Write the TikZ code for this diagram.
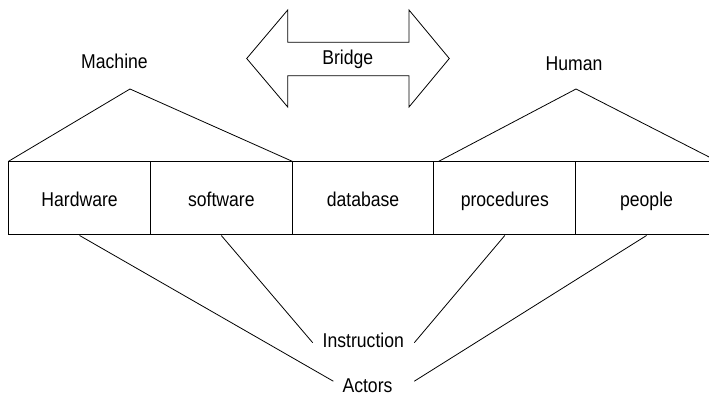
\documentclass[tikz,border=0pt]{standalone}
\usepackage{fontspec}
\setmainfont{Liberation Sans}
\begin{document}
\begin{tikzpicture}[x=1pt,y=-1pt,
  lbl/.style={font=\fontsize{20}{24}\selectfont, inner sep=0pt, xscale=0.88, anchor=base},
  cell/.style={draw, line width=1pt, minimum width=141.74pt, minimum height=73pt,
               inner sep=0pt, anchor=center, text height=18.4pt, text depth=2pt,
               font=\fontsize{20}{24}\selectfont},
  wire/.style={line width=0.8pt, line join=miter}]
\useasboundingbox (0,0) rectangle (709,395);
\clip (0,0) rectangle (709,395);

% the five component cells
\node[cell] (hw) at (79.57,198.5)  {\scalebox{0.88}[1]{Hardware}};
\node[cell] (sw) at (221.31,198.5) {\scalebox{0.88}[1]{software}};
\node[cell] (db) at (363.05,198.5) {\scalebox{0.88}[1]{database}};
\node[cell] (pr) at (504.79,198.5) {\scalebox{0.88}[1]{procedures}};
\node[cell] (pe) at (646.53,198.5) {\scalebox{0.88}[1]{people}};

% group roofs
\coordinate (mpeak) at (130,89);
\coordinate (hpeak) at (576,89);
\draw[wire] (hw.north west) -- (mpeak) -- (sw.north east);
\draw[wire] ([xshift=5pt]pr.north west) -- (hpeak) -- (pe.north east);

\node[lbl] (mach) at (114.5,68.3) {Machine};
\node[lbl] (hum)  at (574,70.7)  {Human};

% double arrow
\draw[wire] (246.7,58.5) -- (287.7,10) -- (287.7,42.3) -- (409,42.3) -- (409,10)
  -- (449.3,58.5) -- (409,107) -- (409,75.7) -- (287.7,75.7) -- (287.7,107) -- cycle;
\node[lbl] (br) at (347.7,65) {Bridge};

% bottom labels
\node[lbl] (ins) at (363.3,347.7) {Instruction};
\node[lbl] (act) at (367.5,392.2) {Actors};

\coordinate (insL) at (312.7,342.7);
\coordinate (insR) at (414.3,342.7);
\coordinate (actL) at (333.3,381.2);
\coordinate (actR) at (414.3,381.2);

\draw[wire] (hw.south) -- (actL);
\draw[wire] (sw.south) -- (insL);
\draw[wire] (pr.south) -- (insR);
\draw[wire] (pe.south) -- (actR);
\end{tikzpicture}
\end{document}
